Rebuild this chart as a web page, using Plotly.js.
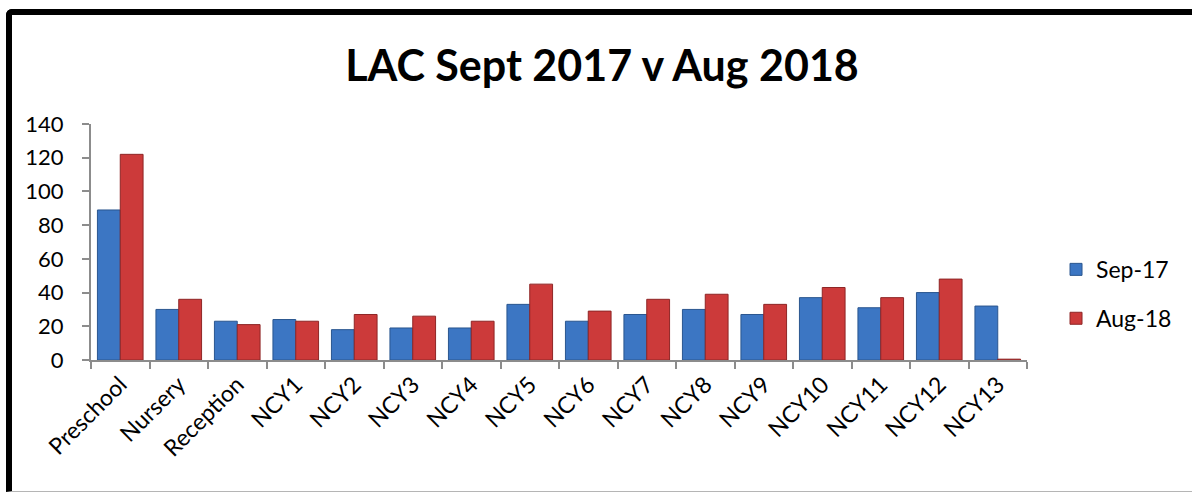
<!DOCTYPE html>
<html>
<head>
<meta charset="utf-8">
<script src="https://cdn.plot.ly/plotly-3.0.1.min.js"></script>
<style>
  html, body { margin:0; padding:0; width:1192px; height:492px; overflow:hidden; background:#fff; }
  #frame { position:absolute; left:6px; top:9px; width:1220px; height:476px;
           border-top:6px solid #000; border-left:6px solid #000; border-bottom:1px solid #b5b5b5;
           border-top-left-radius:6px; box-sizing:content-box; pointer-events:none; z-index:2; }
  #chart { position:absolute; left:0; top:0; width:1192px; height:492px; }
</style>
</head>
<body>
<div id="chart"></div>
<div id="frame"></div>
<script>
const categories = ["Preschool","Nursery","Reception","NCY1","NCY2","NCY3","NCY4","NCY5","NCY6","NCY7","NCY8","NCY9","NCY10","NCY11","NCY12","NCY13"];
const sep17 = [89, 30, 23, 24, 18, 19, 19, 33, 23, 27, 30, 27, 37, 31, 40, 32];
const aug18 = [122, 36, 21, 23, 27, 26, 23, 45, 29, 36, 39, 33, 43, 37, 48, 0.5];
const seriesNames = ["Sep-17", "Aug-18"];
const yTicks = [0, 20, 40, 60, 80, 100, 120, 140];

const font = "Lato, 'Open Sans', sans-serif";

const traces = [
  { type:"bar", x:categories, y:sep17, name:seriesNames[0], legendgroup:"a",
    marker:{ color:"#3c76c3", line:{ color:"#2a568f", width:1 } } },
  { type:"bar", x:categories, y:aug18, name:seriesNames[1], legendgroup:"b",
    marker:{ color:"#cc3a3a", line:{ color:"#8e2626", width:1 } } }
];

const layout = {
  width:1192, height:492,
  margin:{ l:91, r:165, t:124, b:132 },
  paper_bgcolor:"#fff", plot_bgcolor:"#fff",
  barmode:"group", bargap:0.22, bargroupgap:0,
  showlegend:true,
  title:{ text:"<b>LAC Sept 2017 v Aug 2018</b>", font:{ family:font, size:43, color:"#000" },
          x:0.505, xref:"container", xanchor:"center", y:1-66/492, yref:"container", yanchor:"middle" },
  xaxis:{ type:"category", tickangle:-45, tickson:"boundaries",
          ticks:"outside", ticklen:7, tickcolor:"#8c8c8c", tickwidth:2,
          showline:true, linecolor:"#8c8c8c", linewidth:2, showgrid:false, zeroline:false,
          tickfont:{ family:font, size:23, color:"#000" }, fixedrange:true },
  yaxis:{ range:[0,140], tickvals:yTicks, ticktext:yTicks.map(String),
          ticks:"outside", ticklen:7, tickcolor:"#8c8c8c", tickwidth:2,
          showline:true, linecolor:"#8c8c8c", linewidth:2, showgrid:false, zeroline:false,
          ticklabelstandoff:14,
          tickfont:{ family:font, size:22, color:"#000" }, fixedrange:true },
  legend:{ x:1.031, xanchor:"left", y:0.28, yanchor:"middle", traceorder:"grouped",
           tracegroupgap:16, font:{ family:font, size:23, color:"#000" }, bgcolor:"rgba(0,0,0,0)" }
};

Plotly.newPlot("chart", traces, layout, { displayModeBar:false, staticPlot:true });
</script>
</body>
</html>
